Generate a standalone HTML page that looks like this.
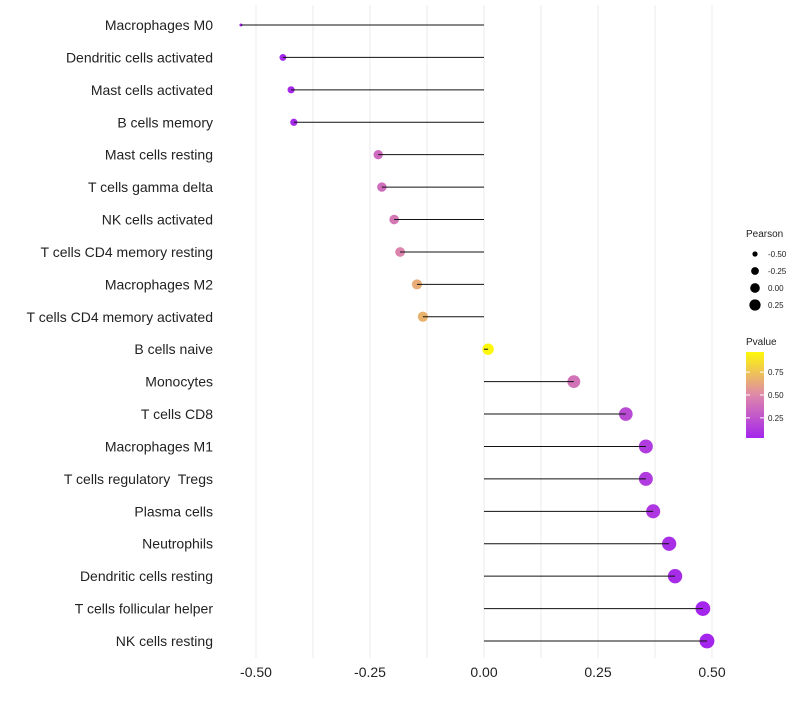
<!DOCTYPE html>
<html><head><meta charset="utf-8"><style>
body{margin:0;background:#fff;font-family:"Liberation Sans",sans-serif}
text{white-space:pre}
</style></head><body>
<svg id="c" width="800" height="700" xmlns="http://www.w3.org/2000/svg"></svg>
<script>
const categories=["Macrophages M0","Dendritic cells activated","Mast cells activated","B cells memory","Mast cells resting","T cells gamma delta","NK cells activated","T cells CD4 memory resting","Macrophages M2","T cells CD4 memory activated","B cells naive","Monocytes","T cells CD8","Macrophages M1","T cells regulatory  Tregs","Plasma cells","Neutrophils","Dendritic cells resting","T cells follicular helper","NK cells resting"];
const pearson=[-0.533,-0.441,-0.423,-0.417,-0.232,-0.224,-0.197,-0.184,-0.147,-0.134,0.009,0.197,0.311,0.355,0.355,0.371,0.406,0.419,0.480,0.489];
const pvalue=[0.02,0.04,0.05,0.05,0.36,0.37,0.42,0.48,0.65,0.68,0.97,0.40,0.20,0.13,0.13,0.11,0.07,0.06,0.03,0.03];
const xTicks=[-0.5,-0.25,0,0.25,0.5];
const xTickLabels=["-0.50","-0.25","0.00","0.25","0.50"];
const sizeLegend=[-0.5,-0.25,0,0.25];
const colorLegend=[0.25,0.5,0.75];

const svg=document.getElementById('c');const NS="http://www.w3.org/2000/svg";
function mk(t,a,p){const e=document.createElementNS(NS,t);for(const k in a)e.setAttribute(k,a[k]);(p||svg).appendChild(e);return e;}
const x=v=>484+v*456;
const y=i=>25+i*(641-25)/(categories.length-1);
const r=v=>v>=-0.441?Math.sqrt(12+46*(v+0.441)):Math.max(1.5,3.46-(-0.441-v)*21);
const rl=v=>Math.sqrt(Math.max(4,12+46*(v+0.441)))*0.85;
function col(p){const s=[[160,32,240],[222,136,170],[255,255,0]];let a,b,t;if(p<0.5){a=s[0];b=s[1];t=p/0.5;}else{a=s[1];b=s[2];t=(p-0.5)/0.5;}return`rgb(${a.map((c,i)=>Math.round(c+(b[i]-c)*t)).join(',')})`;}
for(let v=-0.5;v<=0.501;v+=0.125){const g=mk('line',{x1:x(v),x2:x(v),y1:5,y2:658,stroke:'#ebebeb','stroke-width':1});

}
xTicks.forEach((v,i)=>{const t=mk('text',{x:x(v),y:677,'text-anchor':'middle','font-size':14,fill:'#222'});t.textContent=xTickLabels[i];

});
categories.forEach((c,i)=>{
const t=mk('text',{x:213,y:y(i)+5,'text-anchor':'end','font-size':14,fill:'#222'});t.textContent=c;


const d=mk('circle',{cx:x(pearson[i]),cy:y(i),r:r(pearson[i]),fill:col(pvalue[i])});


const l=mk('line',{x1:x(0),x2:x(pearson[i]),y1:y(i),y2:y(i),stroke:'#111','stroke-width':1});


});
let t=mk('text',{x:746,y:237,'font-size':10,fill:'#222'});t.textContent='Pearson';


sizeLegend.forEach((v,i)=>{const yy=254+i*17;
const c=mk('circle',{cx:755,cy:yy,r:rl(v),fill:'#000'});


const tt=mk('text',{x:768,y:yy+3,'font-size':8,fill:'#222'});tt.textContent=v.toFixed(2);

});
t=mk('text',{x:746,y:345,'font-size':10,fill:'#222'});t.textContent='Pvalue';


const defs=mk('defs',{});const gr=mk('linearGradient',{id:'g',x1:0,y1:1,x2:0,y2:0},defs);
[[0,0.03],[0.5,0.5],[1,0.97]].forEach(([o,p])=>mk('stop',{offset:o,'stop-color':col(p)},gr));
const cb=mk('rect',{x:746,y:352,width:18,height:86,fill:'url(#g)'});


const cy=p=>438-(p-0.03)/(0.94)*86;
colorLegend.forEach(p=>{mk('line',{x1:746,x2:750,y1:cy(p),y2:cy(p),stroke:'#fff'});mk('line',{x1:760,x2:764,y1:cy(p),y2:cy(p),stroke:'#fff'});
const tt=mk('text',{x:768,y:cy(p)+3,'font-size':8,fill:'#222'});tt.textContent=p.toFixed(2);

});
</script></body></html>
